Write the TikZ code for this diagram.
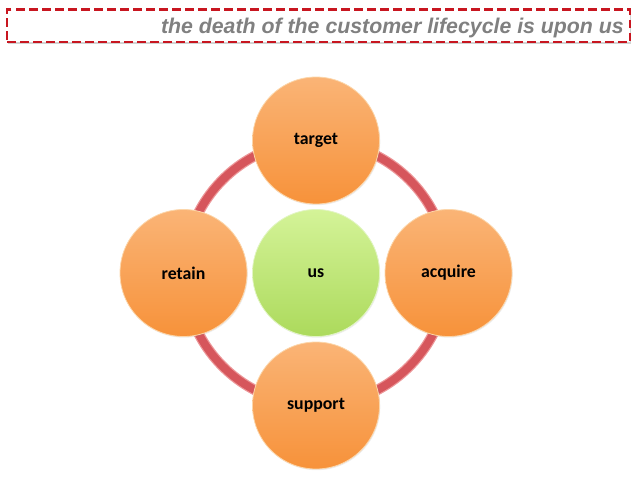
\documentclass[tikz,border=0pt]{standalone}
\usepackage{fontspec}
\setmainfont{Carlito}
\newfontfamily\headfont{Liberation Sans}
\usetikzlibrary{positioning,shadows}

\definecolor{dashred}{RGB}{200,22,32}
\definecolor{headgray}{RGB}{128,128,128}
\definecolor{ringred}{RGB}{214,86,92}
\definecolor{ringedge}{RGB}{236,150,152}
\definecolor{orangetop}{RGB}{250,180,118}
\definecolor{orangebot}{RGB}{247,146,58}
\definecolor{orangeedge}{RGB}{252,214,170}
\definecolor{greentop}{RGB}{212,243,152}
\definecolor{greenbot}{RGB}{172,218,92}
\definecolor{greenedge}{RGB}{226,245,196}

\begin{document}
\begin{tikzpicture}[x=1pt,y=1pt,
  stage/.style={circle,minimum size=127pt,inner sep=0pt,outer sep=0pt,
    top color=orangetop,bottom color=orangebot,draw=orangeedge,line width=0.8pt,
    font=\bfseries\fontsize{17.8}{20}\selectfont,
    drop shadow={opacity=0.15,shadow xshift=0.8pt,shadow yshift=-1.2pt}},
  hub/.style={stage,top color=greentop,bottom color=greenbot,draw=greenedge},
  node distance=5.5pt]

\useasboundingbox (0,0) rectangle (638,-479);

% heading
\node[draw=dashred,line width=2.7pt,dash pattern=on 8.5pt off 4.5pt,fill=white,
  minimum width=623pt,minimum height=32.5pt,
  drop shadow={opacity=0.35,shadow xshift=1pt,shadow yshift=-2pt}] (headbox) at (318.5,-25.8) {};
\node[anchor=base east,inner sep=0pt,text=headgray,
  font=\headfont\bfseries\itshape\fontsize{21.3}{24}\selectfont] (head) at (624,-33.3)
  {the death of the customer lifecycle is upon us};

% centre and ring
\node[hub] (us) at (316,-273) {us};
\draw[ringedge,line width=10.5pt] (us.center) circle[radius=132];
\draw[ringred,line width=8pt] (us.center) circle[radius=132];

% the four stages
\node[stage,above=of us] (target) {target};
\node[stage,right=of us] (acquire) {acquire};
\node[stage,below=of us] (support) {support};
\node[stage,left=of us] (retain) {retain};

\end{tikzpicture}
\end{document}
